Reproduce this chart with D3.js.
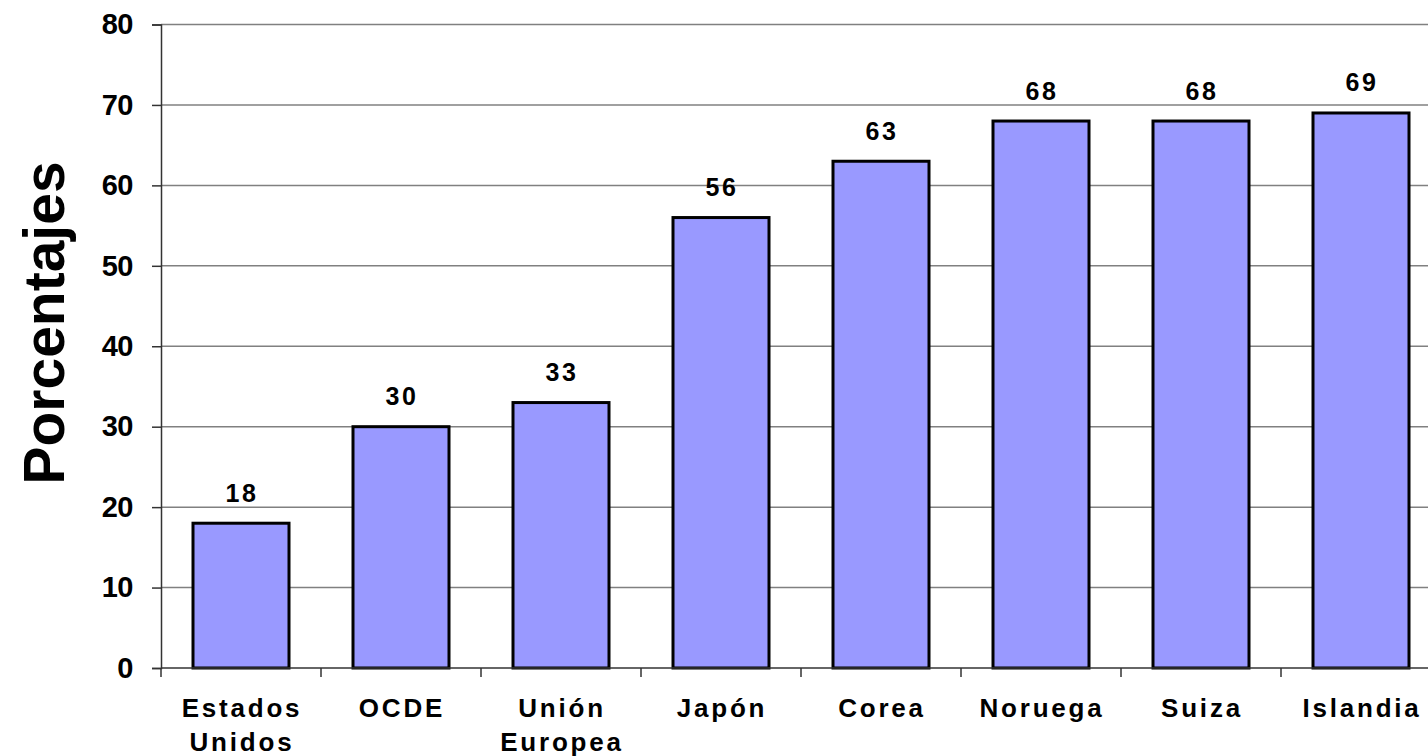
<!DOCTYPE html>
<html>
<head>
<meta charset="utf-8">
<script src="https://cdn.jsdelivr.net/npm/d3@7"></script>
<style>
  body { margin: 0; background: #fff; overflow: hidden; }
  text { font-family: "Liberation Sans", Arial, sans-serif; font-weight: bold; fill: #000; }
</style>
</head>
<body>
<svg id="chart"></svg>
<script>
// data
const categories = [["Estados", "Unidos"], ["OCDE"], ["Unión", "Europea"], ["Japón"], ["Corea"], ["Noruega"], ["Suiza"], ["Islandia"]];
const values = [18, 30, 33, 56, 63, 68, 68, 69];
const yTicks = [0, 10, 20, 30, 40, 50, 60, 70, 80];

const W = 1428, H = 756;
const plotLeft = 161, plotTop = 24.5, plotBottom = 668;
const band = 160;

const svg = d3.select("#chart")
    .attr("width", W)
    .attr("height", H);

const x = d3.scaleBand()
    .domain(d3.range(categories.length))
    .range([plotLeft, plotLeft + band * categories.length])
    .paddingInner(0.4)
    .paddingOuter(0.2);

const y = d3.scaleLinear()
    .domain([0, 80])
    .range([plotBottom, plotTop]);

// gridlines
svg.append("g")
    .selectAll("line")
    .data(yTicks.filter(d => d > 0))
    .enter()
    .append("line")
    .attr("x1", plotLeft)
    .attr("x2", W)
    .attr("y1", d => y(d))
    .attr("y2", d => y(d))
    .attr("stroke", "#808080")
    .attr("stroke-width", 1.5);

// y axis
const yAxis = svg.append("g")
    .attr("transform", `translate(${plotLeft},0)`)
    .call(d3.axisLeft(y).tickValues(yTicks).tickSize(9).tickPadding(19));
yAxis.select(".domain").attr("stroke", "#333").attr("stroke-width", 1.5);
yAxis.selectAll(".tick line").attr("stroke", "#333").attr("stroke-width", 1.5);
yAxis.selectAll(".tick text")
    .attr("font-size", 29)
    .attr("letter-spacing", -0.5)
    .attr("font-family", "Liberation Sans, Arial, sans-serif")
    .attr("font-weight", "bold")
    .attr("fill", "#000");

// bars
svg.append("g")
    .selectAll("rect")
    .data(values)
    .enter()
    .append("rect")
    .attr("x", (d, i) => x(i))
    .attr("y", d => y(d))
    .attr("width", x.bandwidth())
    .attr("height", d => y(0) - y(d))
    .attr("fill", "#9999ff")
    .attr("stroke", "#000")
    .attr("stroke-width", 3);

// value labels
svg.append("g")
    .selectAll("text")
    .data(values)
    .enter()
    .append("text")
    .attr("x", (d, i) => x(i) + x.bandwidth() / 2 + 1)
    .attr("y", d => y(d) - 21.5)
    .attr("text-anchor", "middle")
    .attr("font-size", 25)
    .attr("letter-spacing", 2.5)
    .text(d => d);

// x axis line and ticks
const xb = svg.append("g");
xb.append("line")
    .attr("x1", plotLeft).attr("x2", W)
    .attr("y1", plotBottom).attr("y2", plotBottom)
    .attr("stroke", "#333").attr("stroke-width", 1.5);
xb.selectAll("line.tick")
    .data(d3.range(categories.length + 1))
    .enter()
    .append("line")
    .attr("class", "tick")
    .attr("x1", i => plotLeft + i * band)
    .attr("x2", i => plotLeft + i * band)
    .attr("y1", plotBottom)
    .attr("y2", plotBottom + 9)
    .attr("stroke", "#333")
    .attr("stroke-width", 1.5);

// category labels
const cl = svg.append("g")
    .selectAll("text")
    .data(categories)
    .enter()
    .append("text")
    .attr("x", (d, i) => x(i) + x.bandwidth() / 2 + 1)
    .attr("y", 717)
    .attr("text-anchor", "middle")
    .attr("font-size", 26)
    .attr("letter-spacing", 2.8);
cl.selectAll("tspan")
    .data(d => d)
    .enter()
    .append("tspan")
    .attr("x", function () { return d3.select(this.parentNode).attr("x"); })
    .attr("dy", (d, i) => i === 0 ? 0 : 34)
    .text(d => d);

// y title
svg.append("text")
    .attr("transform", "translate(64,323) rotate(-90)")
    .attr("text-anchor", "middle")
    .attr("font-size", 57)
    .text("Porcentajes");
</script>
</body>
</html>
